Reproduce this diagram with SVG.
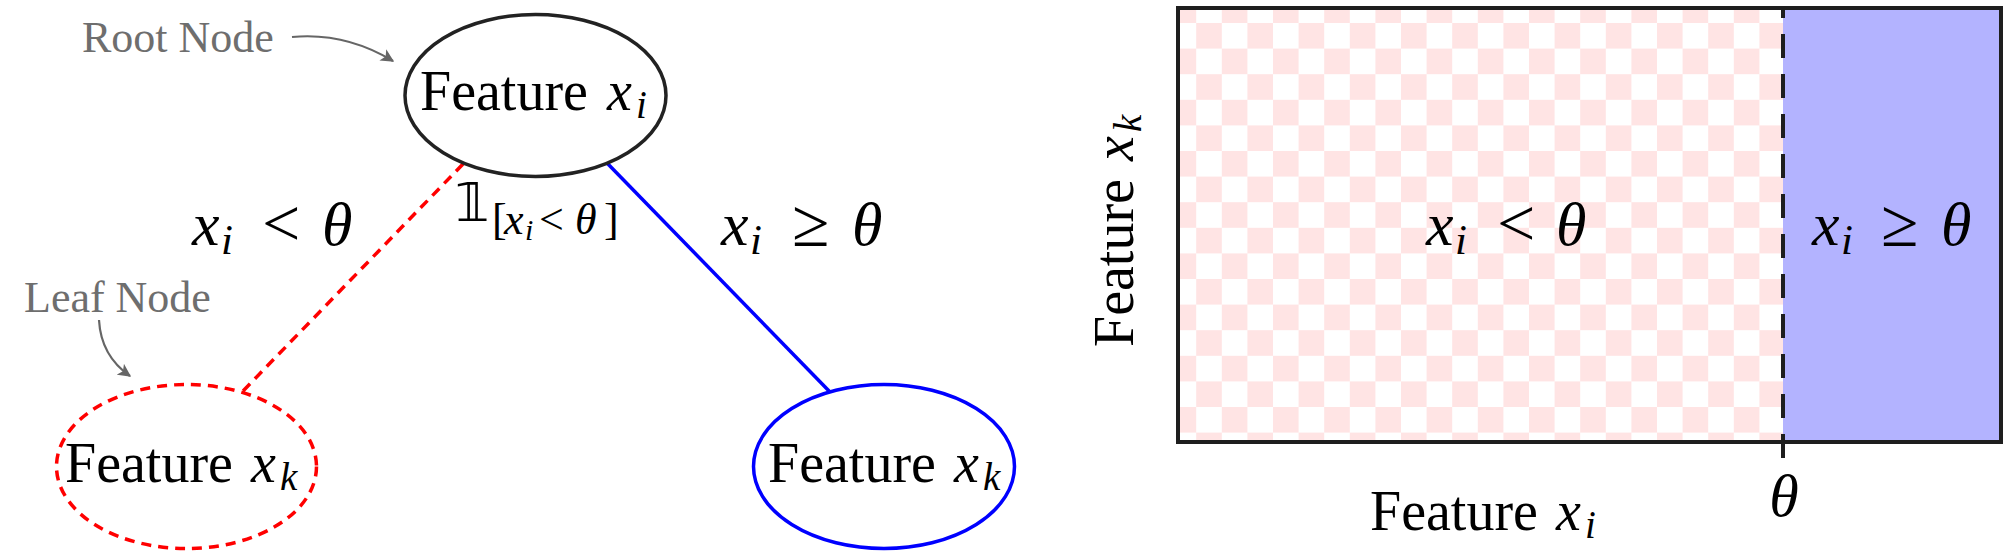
<svg xmlns="http://www.w3.org/2000/svg" width="2012" height="558" viewBox="0 0 2012 558">
<style>
.tx{font-family:"Liberation Serif","DejaVu Serif",serif;fill:#000}
.it{font-style:italic}
.node{font-size:56px}
.big{font-size:62px}
.rel{font-size:68px}
.note{font-family:"Liberation Serif","DejaVu Serif",serif;font-size:44px;fill:#6e6e6e}
.ann{fill:none;stroke:#666;stroke-width:2.2}
</style>
<defs>
<marker id="ah" viewBox="0 0 10 10" refX="9" refY="5" markerWidth="6" markerHeight="6" orient="auto" markerUnits="strokeWidth">
<path d="M0,0 L10,5 L0,10 L2.5,5 Z" fill="#666"/>
</marker>
<pattern id="chk" patternUnits="userSpaceOnUse" x="1170.6" y="-2.6" width="51.2" height="51.2">
<rect width="51.2" height="51.2" fill="#fff"/>
<rect width="25.6" height="25.6" fill="#ffe4e4"/>
<rect x="25.6" y="25.6" width="25.6" height="25.6" fill="#ffe4e4"/>
</pattern>
</defs>
<rect width="2012" height="558" fill="#fff"/>

<g id="connectors">
<line x1="463" y1="164" x2="243" y2="391" stroke="#ff0000" stroke-width="3.5" stroke-dasharray="10 7"/>
<line x1="607" y1="163" x2="830" y2="392" stroke="#0000ff" stroke-width="3.5"/>
<path class="ann" d="M292,37 Q345,32 393,61" marker-end="url(#ah)"/>
<path class="ann" d="M99,320 Q101,356 130,376" marker-end="url(#ah)"/>
</g>

<g id="root-node">
<ellipse cx="535.5" cy="95.5" rx="130.5" ry="81" fill="#fff" stroke="#222" stroke-width="3.5"/>
<text class="tx node" y="110"><tspan x="420">Feature</tspan><tspan class="it" x="607">x</tspan><tspan class="it" x="636" y="118" font-size="39">i</tspan></text>
</g>

<g id="leaf-left">
<ellipse cx="186.5" cy="466.5" rx="130" ry="82" fill="none" stroke="#ff0000" stroke-width="3.5" stroke-dasharray="10 7"/>
<text class="tx node" y="482"><tspan x="65">Feature</tspan><tspan class="it" x="251">x</tspan><tspan class="it" x="280" y="490" font-size="39">k</tspan></text>
</g>

<g id="leaf-right">
<ellipse cx="884" cy="466.5" rx="130.5" ry="82" fill="none" stroke="#0000ff" stroke-width="3.5"/>
<text class="tx node" y="482"><tspan x="768">Feature</tspan><tspan class="it" x="954">x</tspan><tspan class="it" x="983" y="490" font-size="39">k</tspan></text>
</g>

<g id="annotations">
<text class="note" x="82" y="52">Root Node</text>
<text class="note" x="24" y="312">Leaf Node</text>
</g>

<g id="edge-labels">
<text class="tx big" y="245"><tspan class="it" x="192">x</tspan><tspan class="it" x="221" y="254" font-size="43">i</tspan><tspan class="rel" x="262" y="246">&lt;</tspan><tspan class="it" x="322" y="245">θ</tspan></text>
<text class="tx big" y="245"><tspan class="it" x="721">x</tspan><tspan class="it" x="750" y="254" font-size="43">i</tspan><tspan class="rel" x="792" y="246">≥</tspan><tspan class="it" x="852" y="245">θ</tspan></text>
<text class="tx" y="221"><tspan x="455" font-size="54" font-family="DejaVu Sans, DejaVu Serif, sans-serif">𝟙</tspan><tspan x="492" y="234" font-size="44">[</tspan><tspan class="it" x="504" font-size="44">x</tspan><tspan class="it" x="525" y="240" font-size="30">i</tspan><tspan x="539" y="234" font-size="44">&lt;</tspan><tspan class="it" x="575" font-size="44">θ</tspan><tspan x="604" font-size="44">]</tspan></text>
</g>

<g id="feature-space">
<rect x="1180" y="10" width="603" height="431" fill="url(#chk)"/>
<rect x="1783" y="10" width="216" height="431" fill="#b3b3ff"/>
<rect x="1178" y="8" width="823" height="434" fill="none" stroke="#1e1e1e" stroke-width="4"/>
<line x1="1783" y1="458" x2="1783" y2="10" stroke="#1e1e1e" stroke-width="4" stroke-dasharray="24 16"/>
<text class="tx big" y="245"><tspan class="it" x="1426">x</tspan><tspan class="it" x="1455" y="254" font-size="43">i</tspan><tspan class="rel" x="1497" y="246">&lt;</tspan><tspan class="it" x="1556" y="245">θ</tspan></text>
<text class="tx big" y="245"><tspan class="it" x="1812">x</tspan><tspan class="it" x="1841" y="254" font-size="43">i</tspan><tspan class="rel" x="1881" y="246">≥</tspan><tspan class="it" x="1941" y="245">θ</tspan></text>
<text class="tx it" x="1784" y="516" font-size="60" text-anchor="middle">θ</text>
<text class="tx node" y="530"><tspan x="1370">Feature</tspan><tspan class="it" x="1556">x</tspan><tspan class="it" x="1585" y="538" font-size="39">i</tspan></text>
<text class="tx node" transform="translate(1133,347) rotate(-90)" y="0"><tspan x="0">Feature</tspan><tspan class="it" x="186">x</tspan><tspan class="it" x="215" y="8" font-size="39">k</tspan></text>
</g>
</svg>
